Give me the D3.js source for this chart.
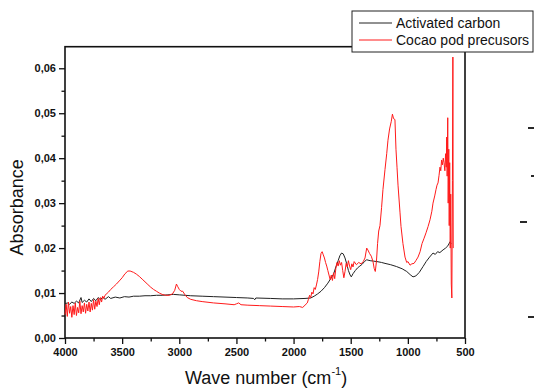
<!DOCTYPE html>
<html>
<head>
<meta charset="utf-8">
<script src="https://cdn.jsdelivr.net/npm/d3@7"></script>
<style>
  body { margin: 0; background: #fff; }
  svg { display: block; font-family: "Liberation Sans", Arial, sans-serif; }
</style>
</head>
<body>
<script>
// tick values
const xTicks = [4000, 3500, 3000, 2500, 2000, 1500, 1000, 500];
const xMinor = [3750, 3250, 2750, 2250, 1750, 1250, 750];
const yTicks = [0, 0.01, 0.02, 0.03, 0.04, 0.05, 0.06];
const yMinor = [0.005, 0.015, 0.025, 0.035, 0.045, 0.055];

const seriesNames = ['Activated carbon', 'Cocao pod precusors'];

// [wave number, absorbance]
const activatedCarbon = [
  [4000,0.0076],[3980,0.0078],[3960,0.0075],[3940,0.0080],[3920,0.0077],[3900,0.0082],[3880,0.0078],
  [3860,0.0090],[3850,0.0079],[3830,0.0084],[3810,0.0080],[3790,0.0087],[3770,0.0081],[3750,0.0088],
  [3730,0.0083],[3710,0.0090],[3690,0.0085],[3670,0.0091],[3650,0.0086],[3620,0.0092],[3600,0.0088],
  [3560,0.0091],[3520,0.0089],[3480,0.0092],[3440,0.0091],[3400,0.0093],[3350,0.0093],[3300,0.0094],
  [3250,0.0094],[3200,0.0095],[3150,0.0095],[3100,0.0096],[3050,0.0097],[3000,0.0096],[2950,0.0095],
  [2900,0.0094],[2800,0.0093],[2700,0.0092],[2600,0.0091],[2500,0.0090],[2400,0.0089],[2350,0.0088],
  [2340,0.0085],[2330,0.0089],[2200,0.0088],[2100,0.0087],[2000,0.0087],[1900,0.0088],[1850,0.0089],
  [1820,0.0093],[1790,0.0098],[1760,0.0104],[1730,0.0112],[1700,0.0122],[1675,0.0132],[1650,0.0142],
  [1630,0.0158],[1610,0.0172],[1595,0.0183],[1580,0.0189],[1565,0.0187],[1550,0.0178],[1535,0.0165],
  [1520,0.0150],[1505,0.0140],[1495,0.0136],[1480,0.0143],[1460,0.0150],[1440,0.0156],[1420,0.0160],
  [1400,0.0164],[1380,0.0170],[1360,0.0174],[1330,0.0172],[1300,0.0171],[1270,0.0170],[1230,0.0168],
  [1200,0.0166],[1150,0.0163],[1100,0.0159],[1050,0.0154],[1010,0.0148],[980,0.0141],[955,0.0136],
  [930,0.0138],[900,0.0146],[867,0.0159],[840,0.0170],[810,0.0180],[780,0.0189],[760,0.0186],
  [740,0.0192],[720,0.0190],[692,0.0196],[670,0.0200],[650,0.0205],[631,0.0214],[620,0.0210]
];

const cocoaPod = [
  [4000,0.0052],[3990,0.0075],[3980,0.0048],[3970,0.0080],[3960,0.0055],[3950,0.0070],[3940,0.0046],
  [3930,0.0072],[3920,0.0052],[3910,0.0078],[3900,0.0050],[3890,0.0068],[3880,0.0056],[3870,0.0082],
  [3860,0.0054],[3850,0.0072],[3840,0.0058],[3830,0.0078],[3820,0.0055],[3810,0.0075],[3800,0.0060],
  [3790,0.0080],[3780,0.0058],[3770,0.0077],[3760,0.0062],[3750,0.0085],[3740,0.0064],[3730,0.0082],
  [3720,0.0070],[3710,0.0088],[3700,0.0074],[3690,0.0090],[3680,0.0080],[3670,0.0093],[3660,0.0088],
  [3650,0.0095],[3620,0.0102],[3600,0.0108],[3575,0.0114],[3550,0.0120],[3525,0.0127],[3500,0.0134],
  [3475,0.0143],[3450,0.0149],[3430,0.0149],[3400,0.0146],[3375,0.0142],[3350,0.0137],[3325,0.0131],
  [3300,0.0125],[3275,0.0119],[3250,0.0113],[3225,0.0108],[3200,0.0104],[3175,0.0100],[3150,0.0097],
  [3120,0.0095],[3090,0.0095],[3060,0.0098],[3040,0.0106],[3025,0.0120],[3015,0.0115],[3000,0.0108],
  [2985,0.0104],[2970,0.0104],[2950,0.0096],[2930,0.0090],[2900,0.0086],[2850,0.0083],[2800,0.0081],
  [2700,0.0078],[2600,0.0076],[2520,0.0074],[2500,0.0076],[2480,0.0078],[2460,0.0074],[2400,0.0073],
  [2300,0.0072],[2200,0.0071],[2100,0.0070],[2000,0.0069],[1950,0.0070],[1920,0.0068],[1900,0.0073],
  [1880,0.0078],[1870,0.0086],[1860,0.0095],[1850,0.0090],[1840,0.0102],[1830,0.0098],[1820,0.0112],
  [1810,0.0108],[1800,0.0118],[1790,0.0130],[1780,0.0147],[1770,0.0170],[1760,0.0188],[1750,0.0192],
  [1740,0.0185],[1730,0.0178],[1720,0.0168],[1710,0.0160],[1700,0.0150],[1690,0.0140],[1680,0.0130],
  [1670,0.0140],[1660,0.0128],[1650,0.0145],[1640,0.0132],[1630,0.0155],[1620,0.0168],[1610,0.0160],
  [1600,0.0172],[1590,0.0162],[1580,0.0168],[1570,0.0150],[1560,0.0134],[1550,0.0148],[1540,0.0166],
  [1530,0.0158],[1520,0.0172],[1510,0.0160],[1500,0.0152],[1490,0.0165],[1480,0.0158],[1470,0.0170],
  [1450,0.0163],[1430,0.0168],[1410,0.0165],[1390,0.0170],[1375,0.0178],[1360,0.0200],[1350,0.0196],
  [1335,0.0188],[1320,0.0182],[1305,0.0170],[1295,0.0155],[1285,0.0148],[1275,0.0170],[1265,0.0210],
  [1255,0.0238],[1244,0.0250],[1230,0.0290],[1218,0.0330],[1200,0.0375],[1185,0.0410],[1174,0.0440],
  [1160,0.0465],[1145,0.0482],[1135,0.0498],[1125,0.0488],[1113,0.0486],[1104,0.0420],[1095,0.0380],
  [1086,0.0340],[1069,0.0280],[1060,0.0248],[1043,0.0210],[1025,0.0180],[1010,0.0168],[999,0.0170],
  [981,0.0162],[965,0.0165],[946,0.0166],[930,0.0172],[911,0.0180],[893,0.0192],[876,0.0210],
  [858,0.0222],[841,0.0234],[823,0.0248],[806,0.0263],[790,0.0282],[780,0.0300],[765,0.0316],
  [754,0.0330],[745,0.0340],[736,0.0345],[727,0.0362],[719,0.0380],[712,0.0372],[705,0.0396],
  [698,0.0385],[690,0.0400],[684,0.0390],[676,0.0372],[670,0.0410],[664,0.0380],[660,0.0447],
  [656,0.0360],[651,0.0490],[647,0.0300],[642,0.0420],[638,0.0250],[634,0.0390],[629,0.0200],
  [625,0.0320],[620,0.0120],[615,0.0089],[610,0.0350],[606,0.0625],[603,0.0200]
];

const margin = { top: 46.7, right: 69, bottom: 50, left: 65 },
      width = 534 - margin.left - margin.right,
      height = 388 - margin.top - margin.bottom;

const svg = d3.select('body')
  .append('svg')
    .attr('width', 534)
    .attr('height', 388);

const g = svg.append('g')
    .attr('transform', `translate(${margin.left},${margin.top})`);

// scales
const x = d3.scaleLinear().domain([4000, 500]).range([0, width]);
const y = d3.scaleLinear().domain([0, 0.0648]).range([height, 0]);

const comma = d => d.toFixed(2).replace('.', ',');

// axes
const xAxis = g.append('g')
    .attr('transform', `translate(0,${height})`)
    .call(d3.axisBottom(x).tickValues(xTicks).tickSize(6).tickPadding(4).tickFormat(d3.format('d')));
g.append('g')
    .attr('transform', `translate(0,${height})`)
    .call(d3.axisBottom(x).tickValues(xMinor).tickSize(3.5).tickFormat(''));

const yAxis = g.append('g')
    .call(d3.axisLeft(y).tickValues(yTicks).tickSize(6).tickPadding(3).tickFormat(comma));
g.append('g')
    .call(d3.axisLeft(y).tickValues(yMinor).tickSize(3.5).tickFormat(''));

g.selectAll('.domain').remove();
g.selectAll('.tick line').attr('stroke', '#111').attr('stroke-width', 1.3);
g.selectAll('.tick text')
    .attr('font-size', '11px')
    .attr('font-weight', 'bold')
    .attr('fill', '#111')
    .style('font-family', '"Liberation Sans", Arial, sans-serif');

// frame
g.append('rect')
    .attr('width', width)
    .attr('height', height)
    .attr('fill', 'none')
    .attr('stroke', '#111')
    .attr('stroke-width', 1.6);

// spectra
const line = d3.line()
    .x(d => x(d[0]))
    .y(d => y(d[1]));

g.append('path')
    .datum(activatedCarbon)
    .attr('fill', 'none')
    .attr('stroke', '#222')
    .attr('stroke-width', 1)
    .attr('d', line);

g.append('path')
    .datum(cocoaPod)
    .attr('fill', 'none')
    .attr('stroke', '#ff1a1a')
    .attr('stroke-width', 1)
    .attr('d', line);

// axis labels
svg.append('text')
    .attr('transform', `translate(23,${margin.top + height / 2 + 15}) rotate(-90)`)
    .attr('text-anchor', 'middle')
    .attr('font-size', '18px')
    .attr('fill', '#111')
    .text('Absorbance');

const xl = svg.append('text')
    .attr('x', 185)
    .attr('y', 384)
    .attr('font-size', '18px')
    .attr('fill', '#111')
    .text('Wave number (cm');
xl.append('tspan').attr('font-size', '11px').attr('dy', -9).text('-1');
xl.append('tspan').attr('dy', 9).text(')');

// legend
const legend = svg.append('g').attr('transform', 'translate(352,11)');
legend.append('rect')
    .attr('width', 181)
    .attr('height', 41)
    .attr('fill', '#fff')
    .attr('stroke', '#222')
    .attr('stroke-width', 1);
const legendColors = ['#222', '#ff1a1a'];
seriesNames.forEach((name, i) => {
  legend.append('line')
      .attr('x1', 7).attr('x2', 40)
      .attr('y1', 12 + i * 17).attr('y2', 12 + i * 17)
      .attr('stroke', legendColors[i])
      .attr('stroke-width', 1);
  legend.append('text')
      .attr('x', 44)
      .attr('y', 17 + i * 17)
      .attr('font-size', '14px')
      .attr('fill', '#111')
      .text(name);
});

// stray marks at right edge of the source image
[[528, 534, 128], [531, 534, 176], [520, 527, 222], [528, 534, 317]].forEach(m => {
  svg.append('line')
      .attr('x1', m[0]).attr('x2', m[1])
      .attr('y1', m[2]).attr('y2', m[2])
      .attr('stroke', '#111')
      .attr('stroke-width', 1.8);
});
</script>
</body>
</html>
